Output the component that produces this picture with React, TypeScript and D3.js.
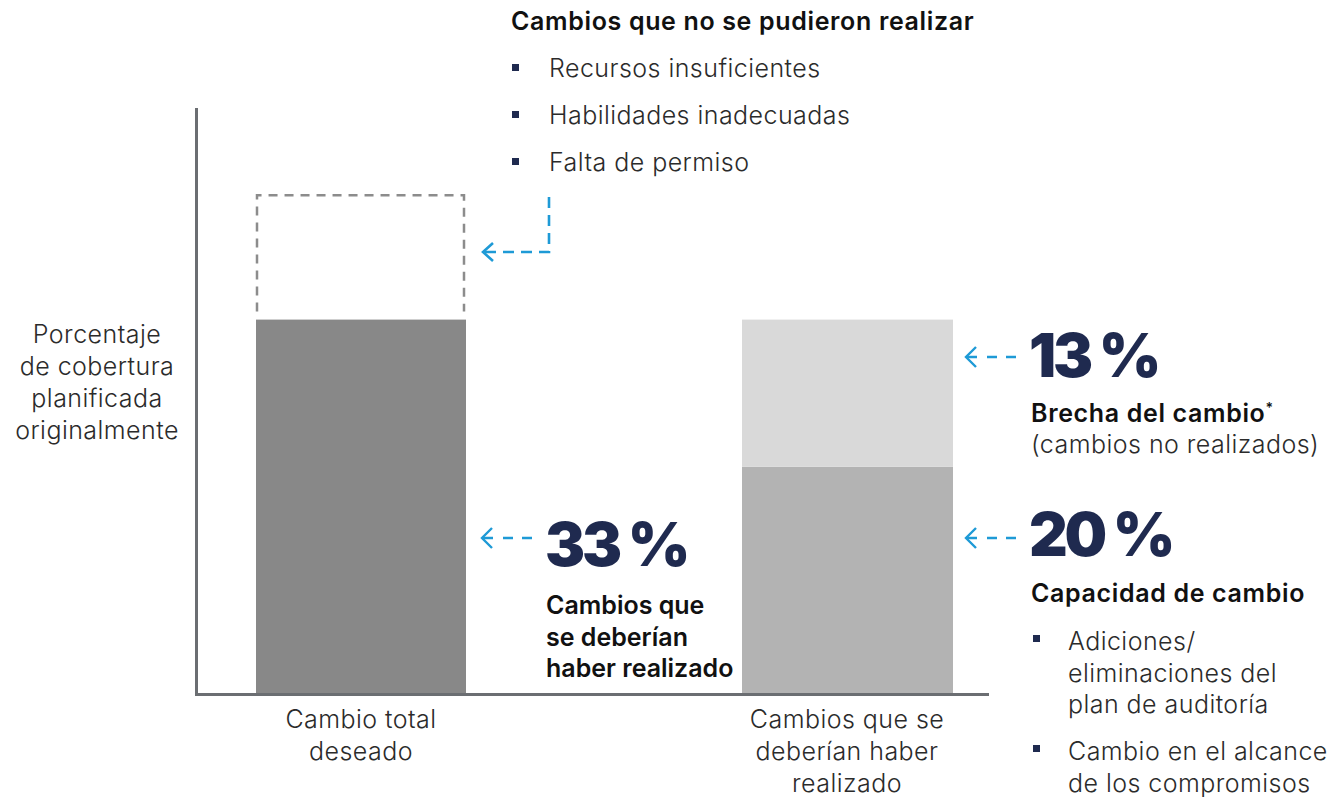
import React from "react";
import * as d3 from "d3";

const categories = ["Cambio total deseado", "Cambios que se deberían haber realizado"];
const categoryLines = [["Cambio total", "deseado"], ["Cambios que se", "deberían haber", "realizado"]];
const totalDesired = 33;
const notPossible = 11;
const capacity = 20;
const gap = 13;
const axisMax = 51.7;
const yLabelLines = ["Porcentaje", "de cobertura", "planificada", "originalmente"];
const topTitle = "Cambios que no se pudieron realizar";
const topBullets = ["Recursos insuficientes", "Habilidades inadecuadas", "Falta de permiso"];
const leftNoteLines = ["Cambios que", "se deberían", "haber realizado"];
const gapTitle = "Brecha del cambio";
const gapSub = "(cambios no realizados)";
const capTitle = "Capacidad de cambio";
const capBullets = [["Adiciones/", "eliminaciones del", "plan de auditoría"], ["Cambio en el alcance", "de los compromisos"]];

const W = 1332, H = 797;
const FONT = "Inter, 'Noto Sans', sans-serif";
const NAVY = "#1f2a4f";
const BLUE = "#1e9ad6";
const AXIS = "#6b6e72";

function Arrow({ x, y }: { x: number; y: number }) {
  return (
    <g stroke={BLUE} strokeWidth={2.4} fill="none">
      <path d={`M${x + 10},${y - 10} L${x},${y} L${x + 10},${y + 10}`} />
      <line x1={x + 1} y1={y} x2={x + 50} y2={y} strokeDasharray="10 10 10 9 10" />
    </g>
  );
}

export default function App() {
  const y = d3.scaleLinear().domain([0, axisMax]).range([693, 108]);
  const x = d3.scaleBand().domain(categories).range([197, 1230]).paddingInner(0.55).paddingOuter(0.12);
  const bx = (i: number) => (i === 0 ? 256 : 742);
  const bw = 210;
  const y0 = y(0);
  void x;

  const lightText = { fontFamily: FONT, fontWeight: 300, fontSize: 25, fill: "#2b2b2b", letterSpacing: 0.45 } as const;
  const boldText = { fontFamily: FONT, fontWeight: 600, fontSize: 25, fill: "#111", letterSpacing: 0.65 } as const;
  const bigText = { fontFamily: FONT, fontWeight: 900, fontSize: 60, fill: NAVY, letterSpacing: -3.2 } as const;

  return (
    <svg width={W} height={H} style={{ position: "absolute", left: 0, top: 0, background: "#fff" }}>
      {/* bars */}
      <rect x={bx(0)} y={y(totalDesired)} width={bw} height={y0 - y(totalDesired)} fill="#888888" />
      <path
        d={`M${bx(0) + 1},${y(totalDesired) - 8} L${bx(0) + 1},${y(totalDesired + notPossible)} L${bx(0) + bw - 2},${y(totalDesired + notPossible)} L${bx(0) + bw - 2},${y(totalDesired) - 8}`}
        fill="none" stroke="#8c8c8c" strokeWidth={2.5} strokeDasharray="9 7"
      />
      <rect x={bx(1)} y={y(capacity)} width={bw + 1} height={y0 - y(capacity)} fill="#b3b3b3" />
      <rect x={bx(1)} y={y(capacity + gap)} width={bw + 1} height={y(capacity) - y(capacity + gap)} fill="#d9d9d9" />

      {/* axes */}
      <line x1={196.5} y1={108} x2={196.5} y2={695} stroke={AXIS} strokeWidth={3} />
      <line x1={195} y1={694.5} x2={989} y2={694.5} stroke={AXIS} strokeWidth={3} />

      {/* y label */}
      {yLabelLines.map((t, i) => (
        <text key={t} x={97} y={343 + i * 32} textAnchor="middle" {...lightText}>{t}</text>
      ))}

      {/* x labels */}
      {categoryLines.map((lines, ci) =>
        lines.map((t, i) => (
          <text key={t} x={bx(ci) + bw / 2 + (ci === 0 ? 0 : 0)} y={728 + i * 32} textAnchor="middle" {...lightText}>{t}</text>
        ))
      )}

      {/* top annotation */}
      <text x={511} y={30} {...boldText}>{topTitle}</text>
      {topBullets.map((t, i) => (
        <g key={t}>
          <rect x={512} y={64 + i * 47} width={7} height={7} fill={NAVY} />
          <text x={549} y={77 + i * 47} {...lightText}>{t}</text>
        </g>
      ))}
      <g stroke={BLUE} strokeWidth={2.6} fill="none">
        <path d={`M549,197 L549,252 L484,252`} strokeDasharray="11 7" />
        <path d={`M493,243 L483,252 L493,261`} />
      </g>

      {/* 33% */}
      <Arrow x={482} y={538} />
      <text x={545} y={566} {...bigText}>{totalDesired} %</text>
      {leftNoteLines.map((t, i) => (
        <text key={t} x={546} y={614 + i * 31.5} {...boldText} letterSpacing={0}>{t}</text>
      ))}

      {/* 13% */}
      <Arrow x={966} y={357} />
      <text x={1029} y={377} {...bigText}>{gap} %</text>
      <text x={1031} y={422} {...boldText}>{gapTitle}<tspan dy={-9} fontSize={14}>*</tspan></text>
      <text x={1031} y={453} {...lightText}>{gapSub}</text>

      {/* 20% */}
      <Arrow x={966} y={538} />
      <text x={1029} y={556} {...bigText}>{capacity} %</text>
      <text x={1031} y={602} {...boldText}>{capTitle}</text>
      {capBullets.map((lines, bi) => (
        <g key={bi}>
          <rect x={1033} y={(bi === 0 ? 635 : 745)} width={7} height={7} fill={NAVY} />
          {lines.map((t, i) => (
            <text key={t} x={1068} y={(bi === 0 ? 650 : 760) + i * 31.5} {...lightText}>{t}</text>
          ))}
        </g>
      ))}
    </svg>
  );
}
